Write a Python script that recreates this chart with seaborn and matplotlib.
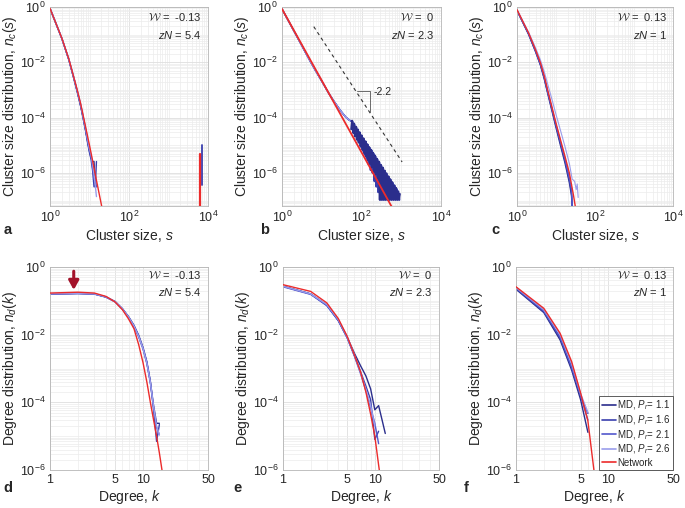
import numpy as np
import pandas as pd
import matplotlib
matplotlib.use("Agg")
import matplotlib.pyplot as plt
from matplotlib.ticker import LogLocator, NullFormatter, FixedLocator, FixedFormatter
from matplotlib.lines import Line2D
import seaborn as sns

# ---------------- data ----------------
md_labels = ["MD, $P_r$= 1.1", "MD, $P_r$= 1.6", "MD, $P_r$= 2.1", "MD, $P_r$= 2.6"]
net_label = "Network"
w_text = ["-0.13", "0", "0.13"]
zn_text = ["5.4", "2.3", "1"]

# panel a : cluster size distribution, W = -0.13
a_s_net = [1, 2, 3, 4, 5, 6, 8, 10, 12, 15, 20, 25]
a_net = [0.89, 0.074, 0.0132, 2.9e-3, 8.9e-4, 3.1e-4, 4.5e-5, 1e-5, 2.75e-6, 5.4e-7, 7.1e-8, 1.3e-8]
a_s_md = [1, 2, 3, 4, 5, 6, 7, 8, 9, 10, 11, 12, 13, 14, 15]
a_md11 = [0.89, 0.072, 0.0125, 2.7e-3, 7.8e-4, 2.6e-4, 9e-5, 3.4e-5, 1.3e-5, 6e-6, 3.5e-6, 2.6e-6, 2.6e-6, 3.2e-7, 3.2e-7]
a_md16 = [0.89, 0.071, 0.0122, 2.6e-3, 7.5e-4, 2.5e-4, 8.5e-5, 3.2e-5, 1.2e-5, 5.5e-6, 3e-6, 1.2e-6, 3.2e-7, 3.2e-7, 2.6e-6]
a_md21 = [0.89, 0.073, 0.0128, 2.8e-3, 8.2e-4, 2.8e-4, 9.5e-5, 3.7e-5, 1.4e-5, 6.5e-6, 4e-6, 1.5e-6, 6e-7, 6e-7, 3.2e-7]
a_md26 = [0.89, 0.074, 0.013, 2.85e-3, 8.6e-4, 3e-4, 1e-4, 4e-5, 1.6e-5, 7.5e-6, 4.5e-6, 2e-6, 9e-7, 3.5e-7, 1.4e-7]
a_giant_s_net = [6300, 6300]
a_giant_net = [5e-6, 5e-8]
a_giant_s_md = [6900, 6900]
a_giant_md = [1e-5, 3.7e-7]

# panel b : W = 0
b_s_net = [1, 10, 100, 600]
b_net = [0.85, 2.2e-3, 5.6e-6, 5.4e-8]
b_s_head = [1, 2, 3, 5, 7, 10, 15, 20, 30, 40, 50, 55]
b_md_head = [0.85, 0.135, 0.046, 0.0117, 5.0e-3, 2.1e-3, 7.6e-4, 4.0e-4, 1.75e-4, 1.05e-4, 8.0e-5, 7.6e-5]
b_s_tail = [55, 60, 63, 66, 70, 74, 78, 82, 87, 92, 97, 103, 109, 115, 122, 129, 136, 144, 152, 161,
            170, 180, 190, 201, 212, 224, 237, 251, 265, 280, 296, 313, 331, 350, 370, 391,
            413, 437, 462, 488, 516, 545, 576, 609, 644, 681, 720, 761, 804, 850, 900]
b_md_tail = [7.6e-5, 7.2e-5, 3.5e-5, 5.9e-5, 2.5e-5, 4.6e-5, 1.8e-5, 3.6e-5, 1.26e-5, 2.8e-5, 8.9e-6,
             2.2e-5, 6.3e-6, 1.7e-5, 4.5e-6, 1.35e-5, 3.2e-6, 1.05e-5, 2.0e-6, 8.1e-6,
             1.26e-6, 6.5e-6, 1.0e-6, 5.0e-6, 5.0e-7, 4.0e-6, 3.2e-7, 3.1e-6, 2.0e-7, 2.45e-6,
             1.07e-7, 1.9e-6, 1.07e-7, 1.5e-6, 1.07e-7, 1.17e-6, 1.07e-7, 9.1e-7, 1.07e-7, 7.2e-7,
             1.07e-7, 5.6e-7, 1.07e-7, 4.4e-7, 1.07e-7, 3.5e-7, 1.07e-7, 2.7e-7, 1.07e-7, 2.1e-7, 1.07e-7]
b_s_tail2 = [55, 58, 61.5, 64.5, 68, 72, 76, 80, 84.5, 89.5, 94.5, 100, 106, 112, 118.5, 125.5, 132.5,
             140, 148, 156.5, 165.5, 175, 185, 196, 207, 218, 230, 244, 258, 272, 288, 304, 322,
             340, 360, 380, 402, 425, 450, 475, 502, 530, 560, 592, 626, 662, 700, 740, 782, 827,
             875, 925]
b_md_tail2 = [3.8e-5, 7.8e-5, 2.8e-5, 6.2e-5, 2.1e-5, 4.8e-5, 1.6e-5, 3.8e-5, 1.26e-5, 3.0e-5, 9.1e-6,
              2.3e-5, 6.8e-6, 1.8e-5, 5.0e-6, 1.4e-5, 3.8e-6, 1.1e-5, 2.8e-6, 8.7e-6, 2.1e-6,
              6.9e-6, 1.6e-6, 5.4e-6, 1.1e-6, 4.3e-6, 8.9e-7, 3.3e-6, 6.3e-7, 2.6e-6, 1.07e-7,
              2.0e-6, 1.07e-7, 1.6e-6, 1.07e-7, 1.23e-6, 1.07e-7, 9.8e-7, 1.07e-7, 7.6e-7, 1.07e-7,
              6.0e-7, 1.07e-7, 4.7e-7, 1.07e-7, 3.6e-7, 1.07e-7, 2.9e-7, 1.07e-7, 2.2e-7, 1.07e-7,
              1.74e-7]
b_guide_s = [6.3, 1050]
b_guide_n = [0.195, 2.5e-6]
b_tri_s = [78, 166, 166]
b_tri_n = [8.9e-4, 8.9e-4, 1.6e-4]
b_slope_text = "-2.2"

# panel c : W = 0.13
c_s_net = [1, 2, 3, 4, 5, 6, 8, 10, 13, 17, 22, 28, 32]
c_net = [0.8, 0.112, 0.028, 9.5e-3, 3.2e-3, 1.1e-3, 2.2e-4, 6.3e-5, 1.6e-5, 4e-6, 1e-6, 1.6e-7, 5e-8]
c_s_md = [1, 2, 3, 4, 5, 6, 8, 10, 13, 17, 22, 25, 26]
c_md11 = [0.75, 0.1, 0.024, 7.8e-3, 2.5e-3, 8.5e-4, 1.6e-4, 4.4e-5, 1e-5, 2.3e-6, 4.5e-7, 1.5e-7, 6e-8]
c_md16 = [0.76, 0.102, 0.025, 8.2e-3, 2.7e-3, 9.2e-4, 1.8e-4, 5e-5, 1.2e-5, 2.8e-6, 5.5e-7, 2e-7, 6e-8]
c_md21 = [0.77, 0.105, 0.026, 8.6e-3, 2.85e-3, 9.8e-4, 1.95e-4, 5.5e-5, 1.35e-5, 3.2e-6, 6.5e-7, 2.6e-7, 6e-8]
c_s_md26 = [1, 2, 3, 4, 5, 6, 8, 10, 13, 17, 22, 26, 30, 33, 35, 37]
c_md26 = [0.8, 0.12, 0.033, 0.012, 4.5e-3, 1.8e-3, 4.2e-4, 1.3e-4, 3.5e-5, 9e-6, 2.2e-6, 6e-7, 5e-7, 2.5e-7, 4e-7, 1.3e-7]

# panel d : degree distribution, W = -0.13
d_k_net = [1, 2, 3, 4, 5, 6, 7, 8, 9, 10, 11, 12, 13, 14, 15, 16, 17]
d_net = [0.17, 0.18, 0.17, 0.135, 0.093, 0.055, 0.029, 0.015, 5e-3, 1.5e-3, 4e-4, 1e-4, 3e-5, 1e-5, 3.2e-6, 1e-6, 3e-7]
d_k_md = [1, 2, 3, 4, 5, 6, 7, 8, 9, 10, 11, 12, 13, 14, 15]
d_md11 = [0.16, 0.165, 0.16, 0.13, 0.095, 0.058, 0.033, 0.018, 9e-3, 4e-3, 1.5e-3, 4e-4, 8e-5, 2.4e-5, 2.4e-5]
d_md16 = [0.16, 0.166, 0.16, 0.13, 0.096, 0.059, 0.034, 0.019, 9.5e-3, 4.2e-3, 1.6e-3, 4.2e-4, 6e-5, 7e-6, 2.2e-5]
d_md21 = [0.158, 0.164, 0.158, 0.128, 0.094, 0.057, 0.032, 0.017, 8.5e-3, 3.8e-3, 1.4e-3, 3.8e-4, 7e-5, 1.8e-5, 1.1e-5]
d_md26 = [0.162, 0.167, 0.161, 0.131, 0.095, 0.058, 0.033, 0.018, 8.8e-3, 3.9e-3, 1.45e-3, 3.9e-4, 7.5e-5, 2e-5, 1.1e-5]
d_arrow_k = 1.8
d_arrow_n = [0.75, 0.21]

# panel e : W = 0
e_k_net = [1, 2, 3, 4, 5, 6, 7, 8, 9, 10, 11, 12]
e_net = [0.30, 0.19, 0.087, 0.030, 8.9e-3, 2.5e-3, 7.9e-4, 2e-4, 4.5e-5, 1e-5, 1.4e-6, 2.5e-7]
e_k_md11 = [1, 2, 3, 4, 5, 6, 7, 8, 9, 10, 11, 12, 13]
e_md11 = [0.27, 0.16, 0.075, 0.027, 8.5e-3, 2.8e-3, 1.2e-3, 6e-4, 2.5e-4, 6e-5, 8e-5, 3e-5, 1.2e-5]
e_k_md16 = [1, 2, 3, 4, 5, 6, 7, 8, 9, 10, 11]
e_md16 = [0.27, 0.16, 0.074, 0.026, 8.2e-3, 2.4e-3, 8e-4, 3e-4, 1.2e-4, 8e-6, 1.4e-5]
e_k_md21 = [1, 2, 3, 4, 5, 6, 7, 8, 9, 10, 11]
e_md21 = [0.26, 0.155, 0.072, 0.026, 8e-3, 2.3e-3, 7e-4, 2.2e-4, 7e-5, 2.4e-5, 6e-6]
e_k_md26 = [1, 2, 3, 4, 5, 6, 7, 8, 9, 10]
e_md26 = [0.27, 0.16, 0.078, 0.028, 8.6e-3, 2.5e-3, 7.5e-4, 2.4e-4, 8e-5, 2e-5]

# panel f : W = 0.13
f_k_net = [1, 2, 3, 4, 5, 6, 7, 8]
f_net = [0.26, 0.06, 0.011, 1.6e-3, 1.9e-4, 2.8e-5, 9e-7, 6e-8]
f_k_md = [1, 2, 3, 4, 5, 6]
f_md11 = [0.22, 0.045, 7e-3, 9e-4, 1.2e-4, 1.3e-5]
f_md16 = [0.23, 0.048, 8e-3, 1.05e-3, 1.5e-4, 4.7e-5]
f_md21 = [0.24, 0.05, 8.5e-3, 1.1e-3, 1.6e-4, 3e-5]
f_md26 = [0.25, 0.055, 0.01, 1.4e-3, 1.8e-4, 5e-5]

top_xticks = [1, 1e2, 1e4]
top_xticklabels = [r"$10^{0}$", r"$10^{2}$", r"$10^{4}$"]
ticks_y = [1, 1e-2, 1e-4, 1e-6]
ticklabels_y = [r"$10^{0}$", r"$10^{-2}$", r"$10^{-4}$", r"$10^{-6}$"]
bot_xticks = [1, 5, 10, 50]
bot_xticklabels = ["1", "5", "10", "50"]

# ---------------- style ----------------
sns.set_theme(style="white")
plt.rcParams["font.family"] = ["Liberation Sans", "DejaVu Sans"]
plt.rcParams["mathtext.fontset"] = "custom"
plt.rcParams["mathtext.rm"] = "Liberation Sans"
plt.rcParams["mathtext.it"] = "Liberation Sans:italic"
plt.rcParams["mathtext.bf"] = "Liberation Sans:bold"
plt.rcParams["axes.unicode_minus"] = False

md_colors = ["#2b2e8c", "#3a3fae", "#5357cc", "#9a9deb"]
net_color = "#ec2b2b"

fig = plt.figure(figsize=(6.85, 5.08), dpi=100)
W, H = 685, 508
boxes = [(50, 7, 208, 206), (282, 7, 441, 206), (517, 7, 673, 206),
         (50, 267, 208, 470), (283, 267, 439, 470), (516, 267, 673, 470)]
axes = [fig.add_axes([x0 / W, 1 - y1 / H, (x1 - x0) / W, (y1 - y0) / H]) for x0, y0, x1, y1 in boxes]


def line(ax, x, y, color, lw=1.0, z=2):
    df = pd.DataFrame({"x": x, "y": y})
    sns.lineplot(data=df, x="x", y="y", ax=ax, color=color, lw=lw, sort=False,
                 estimator=None, zorder=z)


def style(ax, top, w, zn):
    ax.set_xscale("log")
    ax.set_yscale("log")
    if top:
        ax.set_xlim(1, 1e4)
        ax.set_ylim(6.4e-8, 1)
        ax.xaxis.set_major_locator(FixedLocator(top_xticks))
        ax.xaxis.set_major_formatter(FixedFormatter(top_xticklabels))
        ax.set_xlabel("Cluster size, $s$", fontsize=10, labelpad=1)
        ax.set_ylabel("Cluster size distribution, $n_c(s)$", fontsize=10, labelpad=1)
    else:
        ax.set_xlim(1, 50)
        ax.set_ylim(1e-6, 1)
        ax.xaxis.set_major_locator(FixedLocator(bot_xticks))
        ax.xaxis.set_major_formatter(FixedFormatter(bot_xticklabels))
        ax.set_xlabel("Degree, $k$", fontsize=10, labelpad=1)
        ax.set_ylabel("Degree distribution, $n_d(k)$", fontsize=10, labelpad=1)
    ax.yaxis.set_major_locator(FixedLocator(ticks_y))
    ax.yaxis.set_major_formatter(FixedFormatter(ticklabels_y))
    for axis in (ax.xaxis, ax.yaxis):
        axis.set_minor_locator(LogLocator(base=10, subs=np.arange(1, 10), numticks=60))
        axis.set_minor_formatter(NullFormatter())
    ax.grid(True, which="minor", color="#ececec", lw=0.5)
    ax.grid(True, which="major", color="#dedede", lw=0.6)
    ax.set_axisbelow(True)
    ax.tick_params(which="both", direction="in", colors="#a0a0a0", labelcolor="#262626",
                   labelsize=9, pad=3)
    ax.tick_params(which="major", length=3, width=0.5)
    ax.tick_params(which="minor", length=1.5, width=0.4)
    for sp in ax.spines.values():
        sp.set_color("#b5b5b5")
        sp.set_linewidth(0.6)
    ytop = 0.95 if top else 0.96
    ax.text(0.96, ytop, r"$\mathcal{W}$ =  " + w, transform=ax.transAxes, ha="right", va="center",
            fontsize=8, color="#262626", math_fontfamily="cm")
    ax.text(0.96, ytop - 0.09 if top else ytop - 0.082, "$zN$ = " + zn, transform=ax.transAxes,
            ha="right", va="center", fontsize=8, color="#262626")


# panel a
ax = axes[0]
for y, c in zip([a_md11, a_md16, a_md21, a_md26], md_colors):
    line(ax, a_s_md, y, c)
line(ax, a_giant_s_md, a_giant_md, md_colors[1], lw=1.3)
line(ax, a_s_net, a_net, net_color, z=3)
line(ax, a_giant_s_net, a_giant_net, net_color, lw=1.6, z=3)

# panel b
ax = axes[1]
for c in md_colors:
    line(ax, b_s_head, b_md_head, c)
line(ax, b_s_tail, b_md_tail, md_colors[1], lw=1.4)
line(ax, b_s_tail2, b_md_tail2, md_colors[0], lw=1.4)
line(ax, b_s_net, b_net, net_color, lw=1.3, z=3)
ax.plot(b_guide_s, b_guide_n, color="#333333", lw=0.8, ls=(0, (3, 3)))
ax.plot(b_tri_s, b_tri_n, color="#555555", lw=0.6)
ax.text(205, 8.5e-4, b_slope_text, fontsize=7.5, color="#262626", va="center", ha="left")

# panel c
ax = axes[2]
for y, c in zip([c_md11, c_md16, c_md21], md_colors):
    line(ax, c_s_md, y, c)
line(ax, c_s_md26, c_md26, md_colors[3], lw=0.8)
line(ax, c_s_net, c_net, net_color, z=3)

# panel d
ax = axes[3]
for y, c in zip([d_md11, d_md16, d_md21, d_md26], md_colors):
    line(ax, d_k_md, y, c)
line(ax, d_k_net, d_net, net_color, z=3)
ax.annotate("", xy=(d_arrow_k, d_arrow_n[1]), xytext=(d_arrow_k, d_arrow_n[0]),
            arrowprops=dict(arrowstyle="-|>,head_width=0.25,head_length=0.45", color="#a3122a",
                            lw=2.2, shrinkA=0, shrinkB=0))

# panel e
ax = axes[4]
line(ax, e_k_md11, e_md11, md_colors[0])
line(ax, e_k_md16, e_md16, md_colors[1])
line(ax, e_k_md21, e_md21, md_colors[2])
line(ax, e_k_md26, e_md26, md_colors[3])
line(ax, e_k_net, e_net, net_color, z=3)

# panel f
ax = axes[5]
for y, c in zip([f_md11, f_md16, f_md21, f_md26], md_colors):
    line(ax, f_k_md, y, c)
line(ax, f_k_net, f_net, net_color, z=3)

for i, ax in enumerate(axes):
    style(ax, i < 3, w_text[i % 3], zn_text[i % 3])

leg_handles = [Line2D([0], [0], color=c, lw=1.2) for c in md_colors] + [Line2D([0], [0], color=net_color, lw=1.2)]
leg = axes[5].legend(leg_handles, md_labels + [net_label], loc="lower right", fontsize=7,
                     frameon=True, fancybox=False, framealpha=1, edgecolor="#444444",
                     handlelength=1.5, handletextpad=0.1, labelspacing=0.12, borderpad=0.25,
                     borderaxespad=0.0)
leg.get_frame().set_linewidth(0.6)

letters = [("a", 8, 230), ("b", 265, 230), ("c", 495, 230),
           ("d", 8, 488), ("e", 238, 488), ("f", 466, 488)]
for t, x, y in letters:
    fig.text(x / W, 1 - y / H, t, fontsize=10.5, fontweight="bold", ha="center", va="center")

fig.savefig("out.png", dpi=100)
